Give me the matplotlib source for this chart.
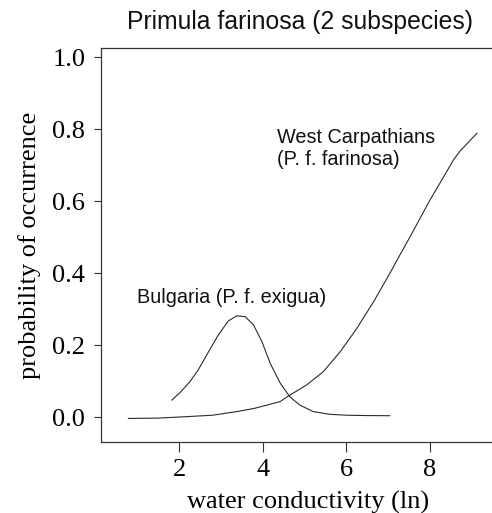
import matplotlib
matplotlib.use("Agg")
import matplotlib.pyplot as plt

# Fitted response curves (water conductivity on ln scale vs. probability of occurrence)
bulgaria_x = [1.83, 2.05, 2.26, 2.46, 2.66, 2.94, 3.18, 3.38, 3.58, 3.78, 3.98,
              4.18, 4.42, 4.65, 4.89, 5.21, 5.61, 6.00, 6.50, 7.04]
bulgaria_y = [0.047, 0.071, 0.098, 0.131, 0.172, 0.228, 0.267, 0.281, 0.279,
              0.256, 0.210, 0.149, 0.094, 0.056, 0.033, 0.015, 0.0075, 0.005,
              0.004, 0.0036]

carpathians_x = [0.79, 1.50, 2.18, 2.80, 3.38, 3.80, 4.10, 4.42, 4.61, 5.05, 5.45,
                 5.85, 6.25, 6.65, 7.04, 7.28, 7.52, 8.00, 8.30, 8.56, 8.72, 9.12]
carpathians_y = [-0.004, -0.003, 0.001, 0.005, 0.015, 0.024, 0.033, 0.043, 0.058,
                 0.089, 0.126, 0.181, 0.246, 0.320, 0.399, 0.450, 0.500, 0.603,
                 0.662, 0.714, 0.739, 0.788]

x_ticks = [2, 4, 6, 8]
y_ticks = [0.0, 0.2, 0.4, 0.6, 0.8, 1.0]

W, H = 492, 513
fig = plt.figure(figsize=(W / 100, H / 100), dpi=100)
ax = fig.add_axes([101 / W, 71 / H, 399 / W, 394 / H])

line_kw = dict(color="#2b2b2b", lw=0.8, solid_joinstyle="round")
ax.plot(bulgaria_x, bulgaria_y, **line_kw)
ax.plot(carpathians_x, carpathians_y, **line_kw)

ax.set_xlim(0.135, 9.673)
ax.set_ylim(-0.0694, 1.025)

serif = "Liberation Serif"
sans = "Liberation Sans"

ax.set_xticks(x_ticks)
ax.set_xticklabels([str(t) for t in x_ticks], family=serif, fontsize=19)
ax.set_yticks(y_ticks)
ax.set_yticklabels([f"{t:.1f}" for t in y_ticks], family=serif, fontsize=19)
ax.tick_params(axis="x", direction="out", length=7.2, width=0.8, color="#333333", pad=5)
ax.tick_params(axis="y", direction="out", length=4.8, width=0.8, color="#333333", pad=6.5)

for side in ("left", "bottom", "top"):
    ax.spines[side].set_color("#333333")
    ax.spines[side].set_linewidth(0.9)
ax.spines["right"].set_visible(False)

ax.set_xlabel("water conductivity (ln)", family=serif, fontsize=19, labelpad=4)
ax.xaxis.set_label_coords(0.519, -0.125)
ax.set_ylabel("probability of occurrence", family=serif, fontsize=19, labelpad=8)

fig.text(300 / W, 1 - 29.5 / H, "Primula farinosa (2 subspecies)", family=sans,
         fontsize=17.8, ha="center", va="baseline", color="#111111")

ax.text(4.343, 0.761, "West Carpathians", family=sans, fontsize=14.3,
        ha="left", va="baseline", color="#111111")
ax.text(4.343, 0.700, "(P. f. farinosa)", family=sans, fontsize=14.3,
        ha="left", va="baseline", color="#111111")
ax.text(0.989, 0.317, "Bulgaria (P. f. exigua)", family=sans, fontsize=14.3,
        ha="left", va="baseline", color="#111111")

fig.savefig("out.png", dpi=100)
